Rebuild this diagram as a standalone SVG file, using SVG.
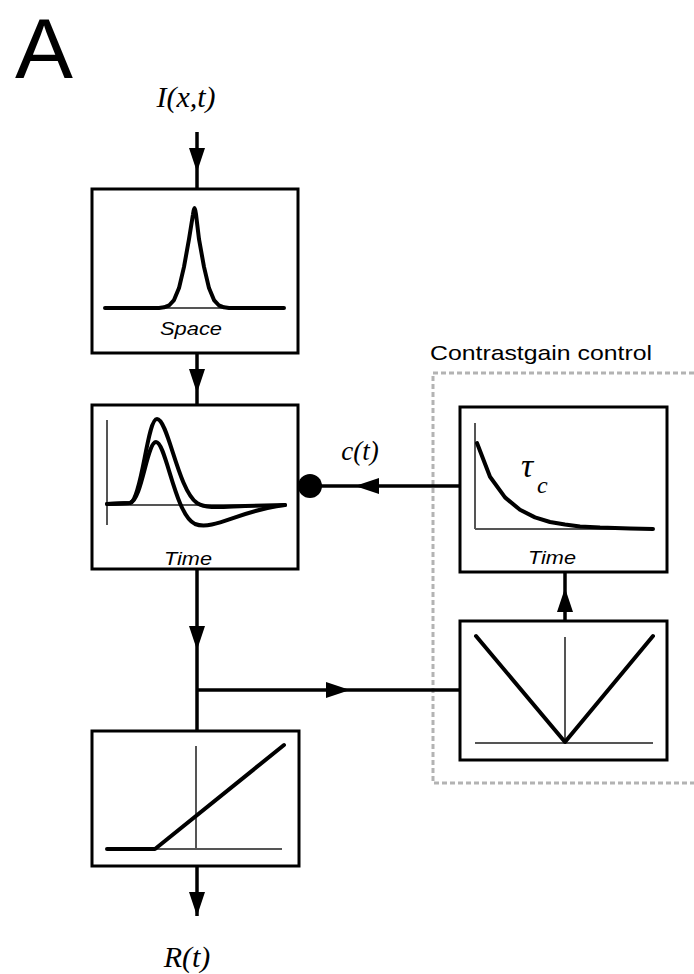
<svg xmlns="http://www.w3.org/2000/svg" width="694" height="974" viewBox="0 0 694 974">
<style>
.box{fill:#fff;stroke:#000;stroke-width:3}
.axis{fill:none;stroke:#555;stroke-width:2}
.curve{fill:none;stroke:#000;stroke-width:4;stroke-linejoin:round;stroke-linecap:round}
.conn{fill:none;stroke:#000;stroke-width:3.5}
.math{font-family:"Liberation Serif","DejaVu Serif",serif;font-style:italic;fill:#000}
.lab{font-family:"Liberation Sans",Arial,sans-serif;font-style:italic;font-size:18px;fill:#000;text-anchor:middle}
.dash{fill:none;stroke:#b3b3b3;stroke-width:3;stroke-dasharray:5 3}
</style>
<defs>
<marker id="arr" markerUnits="userSpaceOnUse" markerWidth="26" markerHeight="18" refX="24" refY="8" orient="auto">
<path d="M0,0 L24,8 L0,16 Z" fill="#000"/>
</marker>
</defs>
<rect width="694" height="974" fill="#fff"/>
<text x="44" y="78" font-family="Liberation Sans,Arial,sans-serif" font-size="86" text-anchor="middle" fill="#000" textLength="58" lengthAdjust="spacingAndGlyphs">A</text>
<text class="math" x="186" y="107" font-size="30" text-anchor="middle">I(x,t)</text>

<g id="group-contrast">
<path class="dash" d="M694,373 L433,373 L433,783 L694,783"/>
<text x="541" y="360" font-family="Liberation Sans,Arial,sans-serif" font-size="21" text-anchor="middle" fill="#000" textLength="222" lengthAdjust="spacingAndGlyphs">Contrastgain control</text>
</g>

<g id="connectors">
<path class="conn" d="M197,132 L197,172 L197,188" marker-mid="url(#arr)"/>
<path class="conn" d="M197,353 L197,393 L197,405" marker-mid="url(#arr)"/>
<path class="conn" d="M197,569 L197,650 L197,731" marker-mid="url(#arr)"/>
<path class="conn" d="M197,690 L350,690 L460,690" marker-mid="url(#arr)"/>
<path class="conn" d="M197,866 L197,916" marker-end="url(#arr)"/>
<path class="conn" d="M460,486 L355,486 L310,486" marker-mid="url(#arr)"/>
<circle cx="310" cy="486" r="12" fill="#000"/>
<path class="conn" d="M565,621 L565,588 L565,572" marker-mid="url(#arr)"/>
</g>

<g id="node-space">
<rect class="box" x="92" y="189" width="206" height="164"/>
<line class="axis" x1="105" y1="308" x2="284" y2="308"/>
<path class="curve" d="M105,308 L159,308 L164,307.3 L169,305.5 L174,300.1 L179,288.1 L184,266.9 L189,239.2 L193,214.2 Q194.5,202 196,214.2 L199,239.2 L204,266.9 L209,288.1 L214,300.1 L219,305.5 L224,307.3 L229,308 L284,308" stroke-width="3.5"/>
<text class="lab" x="191" y="335" textLength="62" lengthAdjust="spacingAndGlyphs">Space</text>
</g>

<g id="node-time">
<rect class="box" x="92" y="405" width="206" height="164"/>
<line class="axis" x1="107" y1="420" x2="107" y2="525"/>
<line class="axis" x1="107" y1="505" x2="285" y2="505"/>
<path class="curve" d="M107,504 L130,503 C142,500 147,419 157,419 C168,419 178,490 197,503 C207,509 220,507 245,506 L285,505" stroke-width="3.5"/>
<path class="curve" d="M107,504 L130,503 C142,500 147,442 156,442 C166,442 175,515 195,524 C214,531 240,510 285,505" stroke-width="3.5"/>
<text class="lab" x="188" y="565" textLength="48" lengthAdjust="spacingAndGlyphs">Time</text>
</g>

<text class="math" x="360" y="460" font-size="27" text-anchor="middle" font-style="normal">c(t)</text>

<g id="node-tau">
<rect class="box" x="460" y="407" width="207" height="165"/>
<line class="axis" x1="475" y1="423" x2="475" y2="529"/>
<line class="axis" x1="475" y1="529" x2="653" y2="529"/>
<path class="curve" d="M477,443 L490,476.8 L505,497.4 L520,509.8 L535,517.4 L550,522 L565,524.5 L580,526.4 L600,527.6 L630,528.6 L653,529" stroke-width="3.5"/>
<text class="math" x="521" y="477" font-size="34">τ</text>
<text class="math" x="537" y="493" font-size="24">c</text>
<text class="lab" x="552" y="564" textLength="48" lengthAdjust="spacingAndGlyphs">Time</text>
</g>

<g id="node-rectifier">
<rect class="box" x="460" y="621" width="207" height="139"/>
<line class="axis" x1="565" y1="637" x2="565" y2="743"/>
<line class="axis" x1="475" y1="743" x2="653" y2="743"/>
<path class="curve" d="M476,636 L565,742 L653,636"/>
</g>

<g id="node-nonlinearity">
<rect class="box" x="92" y="731" width="207" height="135"/>
<line class="axis" x1="196" y1="746" x2="196" y2="849"/>
<line class="axis" x1="107" y1="849" x2="282" y2="849"/>
<path class="curve" d="M107,849 L155,849 L284,745"/>
</g>

<text class="math" x="187" y="967" font-size="30" text-anchor="middle">R(t)</text>
</svg>
